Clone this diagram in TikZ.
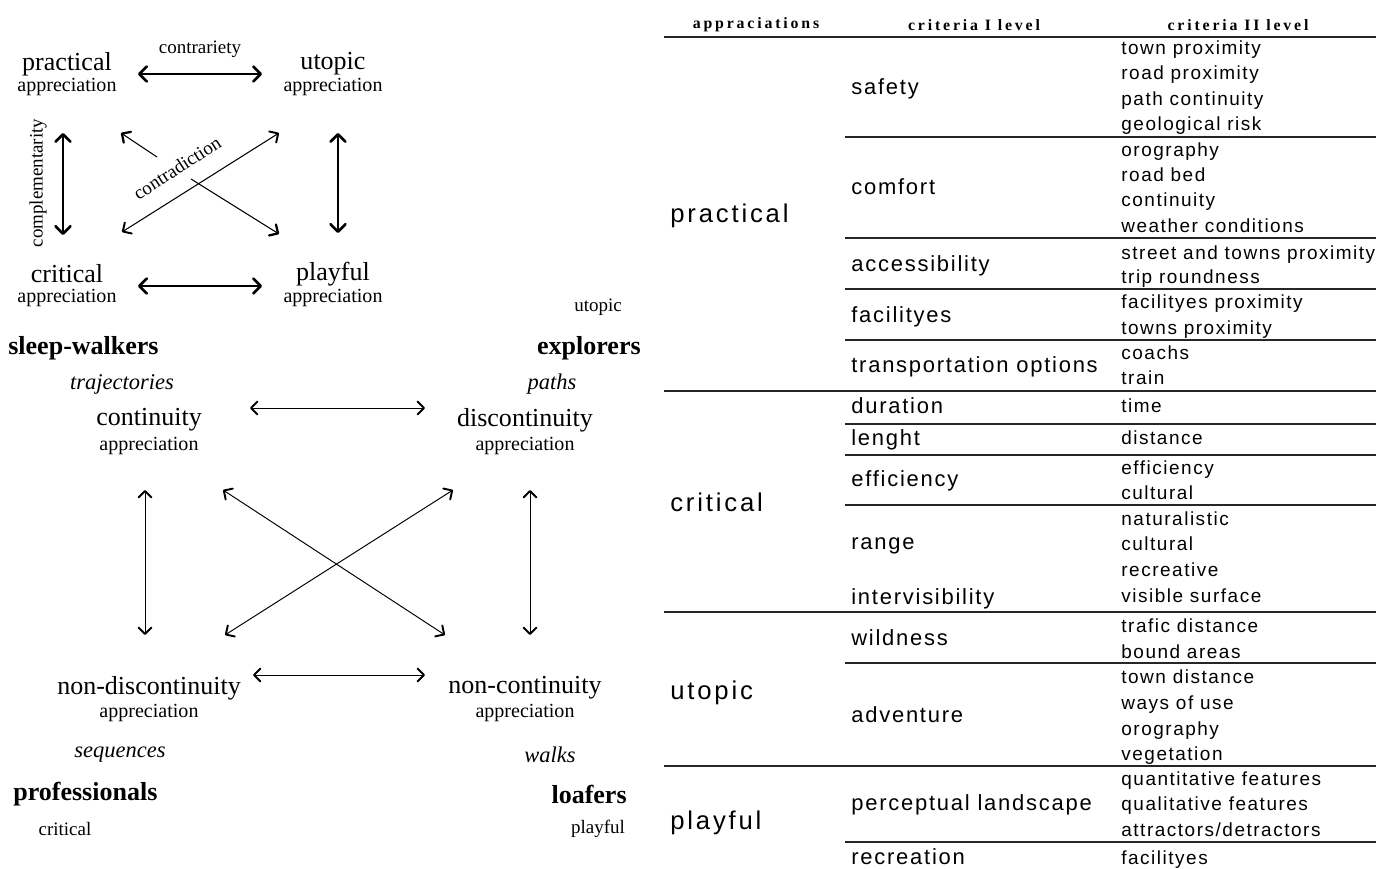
\documentclass[tikz,border=0pt]{standalone}
\usepackage{fontspec}
\setmainfont{Liberation Serif}
\newfontfamily\appfont[LetterSpace=11]{Liberation Sans}
\newfontfamily\critfont[LetterSpace=8]{Liberation Sans}
\newfontfamily\subfont[LetterSpace=8]{Liberation Sans}
\newfontfamily\headfont[LetterSpace=18]{Liberation Serif}
\usetikzlibrary{arrows.meta}

\tikzset{
  big/.style={font=\fontsize{14.8}{16}\selectfont, inner sep=0},
  appr/.style={font=\fontsize{11.4}{12}\selectfont, inner sep=0},
  group/.style={font=\fontsize{14.8}{16}\selectfont\bfseries, inner sep=0},
  way/.style={font=\fontsize{12.8}{14}\selectfont\itshape, inner sep=0},
  tag/.style={font=\fontsize{10.8}{12}\selectfont, inner sep=0},
  link/.style={{Straight Barb[length=1.5mm,width=3mm,line width=1.5pt,round]}-{Straight Barb[length=1.5mm,width=3mm,line width=1.5pt,round]}, line width=0.85pt},
  thinlink/.style={{Straight Barb[length=1.3mm,width=2.6mm,line width=1.1pt,round]}-{Straight Barb[length=1.3mm,width=2.6mm,line width=1.1pt,round]}, line width=0.55pt},
  onehead/.style={-{Straight Barb[length=1.3mm,width=2.6mm,line width=1.3pt,round]}, line width=0.6pt},
  colhead/.style={font=\headfont\fontsize{9}{10}\selectfont\bfseries, inner sep=0},
  apprec/.style={font=\appfont\fontsize{14.6}{15}\selectfont, anchor=base west, inner sep=0, yshift=-1.8mm},
  critone/.style={font=\critfont\fontsize{12.5}{13}\selectfont, anchor=base west, inner sep=0, yshift=-1.5mm},
  crittwo/.style={font=\subfont\fontsize{10.8}{11}\selectfont, anchor=base west, inner sep=0, yshift=-1.4mm},
  fullrule/.style={line width=1pt, black!85},
  partrule/.style={line width=0.8pt, black!85}
}

\begin{document}
\begin{tikzpicture}[x=0.2mm,y=-0.2mm]
  \useasboundingbox (0,0) rectangle (1376,869);

  % square of the appreciations
  \node[tag] (contrariety) at (200,49) {contrariety};
  \node[big] (practical) at (67,64) {practical};
  \node[appr] (practicalA) at (67,87) {appreciation};
  \node[big] (utopic) at (333,64) {utopic};
  \node[appr] (utopicA) at (333,87) {appreciation};
  \node[big] (critical) at (67,274) {critical};
  \node[appr] (criticalA) at (67,298) {appreciation};
  \node[big] (playful) at (333,274) {playful};
  \node[appr] (playfulA) at (333,298) {appreciation};
  \node[tag, rotate=90] (complementarity) at (38,183) {complementarity};
  \node[tag, rotate=33] (contradiction) at (177,168) {contradiction};

  \coordinate (pu1) at (138,74);  \coordinate (pu2) at (262,74);
  \coordinate (cp1) at (138,286); \coordinate (cp2) at (262,286);
  \coordinate (pc1) at (63,133);  \coordinate (pc2) at (63,235);
  \coordinate (up1) at (338,133); \coordinate (up2) at (338,233);
  \coordinate (cu1) at (122,232); \coordinate (cu2) at (279,133);
  \coordinate (pp1) at (121,133); \coordinate (pp2) at (157,157);
  \coordinate (pp3) at (191,179); \coordinate (pp4) at (279,234);

  \draw[link] (pu1) -- (pu2);
  \draw[link] (cp1) -- (cp2);
  \draw[link] (pc1) -- (pc2);
  \draw[link] (up1) -- (up2);
  \draw[thinlink, line width=0.6pt] (cu1) -- (cu2);
  \draw[onehead] (pp2) -- (pp1);
  \draw[onehead] (pp3) -- (pp4);

  % walkers
  \node[tag] (tagutopic) at (598,307) {utopic};
  \node[group, anchor=west] (sleep) at (8,348) {sleep-walkers};
  \node[group, anchor=east] (explorers) at (641,348) {explorers};
  \node[way] (trajectories) at (122,384) {trajectories};
  \node[way] (paths) at (552,384) {paths};
  \node[big] (continuity) at (149,420) {continuity};
  \node[appr] (continuityA) at (149,446) {appreciation};
  \node[big] (discontinuity) at (525,420) {discontinuity};
  \node[appr] (discontinuityA) at (525,446) {appreciation};
  \node[big] (nondis) at (149,688) {non-discontinuity};
  \node[appr] (nondisA) at (149,713) {appreciation};
  \node[big] (noncon) at (525,688) {non-continuity};
  \node[appr] (nonconA) at (525,713) {appreciation};
  \node[way] (sequences) at (120,755) {sequences};
  \node[way] (walks) at (550,755) {walks};
  \node[group, anchor=west] (professionals) at (13,794) {professionals};
  \node[group, anchor=east] (loafers) at (627,794) {loafers};
  \node[tag] (tagcritical) at (65,829) {critical};
  \node[tag] (tagplayful) at (598,829) {playful};

  \coordinate (cd1) at (250,408); \coordinate (cd2) at (425,408);
  \coordinate (nn1) at (253,675); \coordinate (nn2) at (425,675);
  \coordinate (cn1) at (145,490); \coordinate (cn2) at (145,635);
  \coordinate (dn1) at (530,490); \coordinate (dn2) at (530,635);
  \coordinate (xa1) at (223,490); \coordinate (xa2) at (445,635);
  \coordinate (xb1) at (453,490); \coordinate (xb2) at (225,635);

  \draw[thinlink] (cd1) -- (cd2);
  \draw[thinlink] (nn1) -- (nn2);
  \draw[thinlink] (cn1) -- (cn2);
  \draw[thinlink] (dn1) -- (dn2);
  \draw[thinlink] (xa1) -- (xa2);
  \draw[thinlink] (xb1) -- (xb2);

  % table
  \node[colhead] (h1) at (756,25) {appraciations};
  \node[colhead] (h2) at (974,25) {criteria I level};
  \node[colhead] (h3) at (1238,25) {criteria II level};
  \draw[fullrule] (664,37) -- (1376,37);

  \node[apprec] (tpractical) at (670,214) {practical};
  \node[apprec] (tcritical) at (670,502) {critical};
  \node[apprec] (tutopic) at (670,690) {utopic};
  \node[apprec] (tplayful) at (670,820) {playful};

  \node[critone] (safety) at (851,87) {safety};
  \node[critone] (comfort) at (851,187) {comfort};
  \node[critone] (accessibility) at (851,264) {accessibility};
  \node[critone] (facilityes) at (851,315) {facilityes};
  \node[critone] (transport) at (851,365) {transportation options};
  \node[critone] (duration) at (851,406) {duration};
  \node[critone] (lenght) at (851,438) {lenght};
  \node[critone] (efficiency) at (851,479) {efficiency};
  \node[critone] (range) at (851,542) {range};
  \node[critone] (intervis) at (851,597) {intervisibility};
  \node[critone] (wildness) at (851,638) {wildness};
  \node[critone] (adventure) at (851,715) {adventure};
  \node[critone] (perceptual) at (851,803) {perceptual landscape};
  \node[critone] (recreation) at (851,857) {recreation};

  \foreach \y/\t [count=\i] in {48/town proximity, 73/road proximity, 99/path continuity,
      124/geological risk, 150/orography, 175/road bed, 200/continuity,
      226/weather conditions, 253/street and towns proximity, 277/trip roundness,
      302/facilityes proximity, 328/towns proximity, 353/coachs, 378/train,
      406/time, 437/distance, 467/efficiency, 492/cultural, 518/naturalistic,
      543/cultural, 569/recreative, 595/visible surface, 625/trafic distance,
      651/bound areas, 676/town distance, 702/ways of use, 728/orography,
      753/vegetation, 778/quantitative features, 803/qualitative features,
      829/{attractors/detractors}, 857/facilityes}
    \node[crittwo] (sub\i) at (1121,\y) {\t};

  \foreach \y in {391,612,766}
    \draw[fullrule] (664,\y) -- (1376,\y);
  \foreach \y in {137,238,289,340,424,455,505,663,842}
    \draw[partrule] (845,\y) -- (1376,\y);
\end{tikzpicture}
\end{document}
